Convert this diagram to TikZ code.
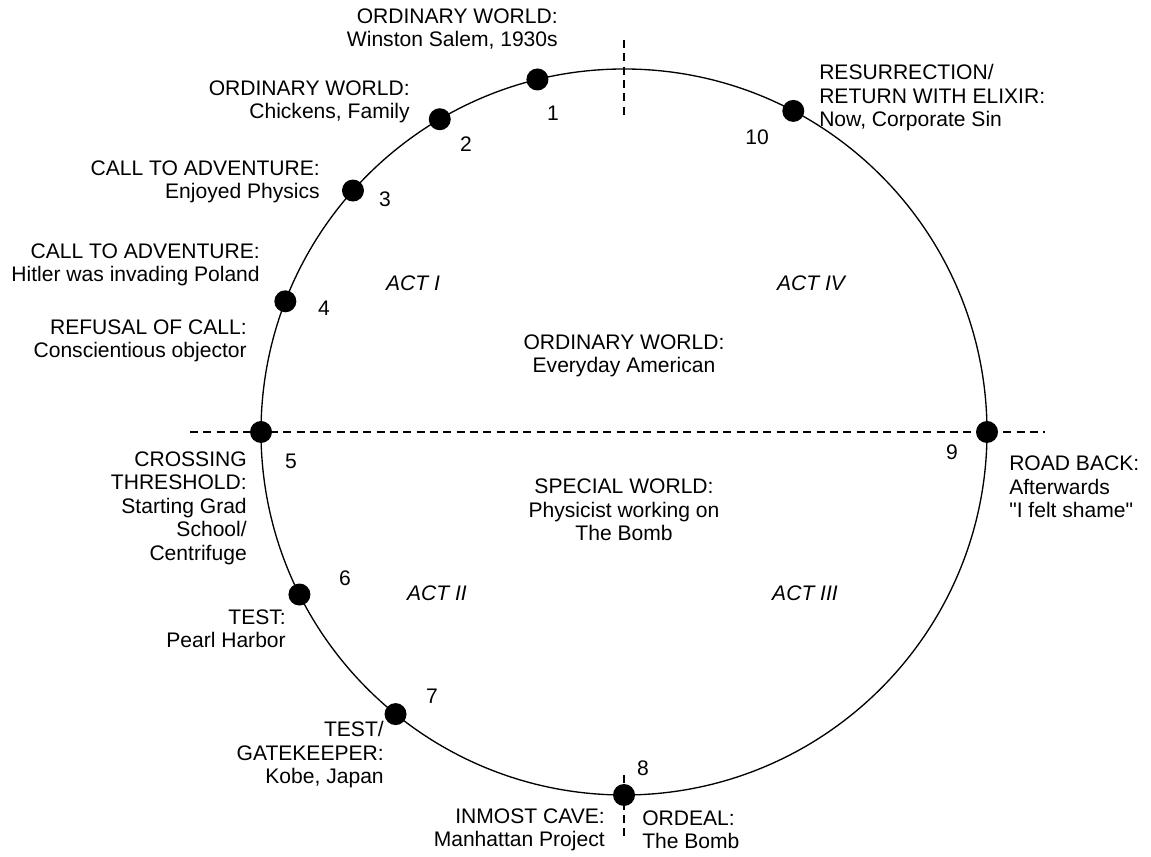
\documentclass[tikz,border=0pt]{standalone}
\usepackage{fontspec}
\setmainfont{Liberation Sans}[Ligatures=TeXOff]
\usetikzlibrary{positioning, calc}
\newcommand{\labelfont}{\fontsize{15.8}{17.6}\selectfont}
\tikzset{
  stage/.style={circle, fill=black, inner sep=0pt, minimum size=16.5pt},
  stagenum/.style={inner sep=0pt, font=\labelfont},
  note/.style={inner sep=0pt, align=right, anchor=east, font=\labelfont},
  noteR/.style={inner sep=0pt, align=left, anchor=west, font=\labelfont},
  act/.style={inner sep=0pt, font=\labelfont\itshape},
  world/.style={inner sep=0pt, align=center, font=\labelfont},
  divider/.style={line width=1pt, dash pattern=on 6pt off 4pt}
}

\begin{document}
\begin{tikzpicture}[x=0.75pt, y=0.75pt]
        \useasboundingbox (0,0) rectangle (1151,856);
        \coordinate (c) at (624,424);

        % Dividers
        \coordinate (hl) at (190,424);
        \coordinate (hr) at (1045,424);
        \coordinate (vt1) at (624,816);
        \coordinate (vt2) at (624,741);
        \coordinate (vb1) at (624,81);
        \coordinate (vb2) at (624,16);
        \draw[divider] (hl) -- (hr);
        \draw[divider] (vt1) -- (vt2);
        \draw[divider] (vb1) -- (vb2);

        % Journey circle
        \draw[line width=1pt] (c) circle (363);

        % Stages (angle / number / number position)
        \foreach \a/\n/\nx/\ny in {
          103.8/1/553/743,
          120.5/2/466/712,
          138.3/3/385/657,
          158.9/4/324/548,
          180/5/291/395,
          206.6/6/345/278,
          231/7/432/160,
          270/8/643/88,
          0/9/952/404,
          62.2/10/757/719
        }{
          \node[stage] (p\n) at ($(c)+(\a:363)$) {};
          \node[stagenum] (n\n) at (\nx,\ny) {\n};
        }

        % Stage notes
        \node[note] (t1) at (558,827) {ORDINARY WORLD:\\Winston Salem, 1930s};
        \node[note] (t2) at (410,754) {ORDINARY WORLD:\\Chickens, Family};
        \node[note] (t3) at (320,674) {CALL TO ADVENTURE:\\Enjoyed Physics};
        \node[note] (t4) at (260,591) {CALL TO ADVENTURE:\\Hitler was invading Poland};
        \node[note] (t4b) at (247,515) {REFUSAL OF CALL:\\Conscientious objector};
        \node[note] (t5) at (247,348) {CROSSING\\THRESHOLD:\\Starting Grad\\School/\\Centrifuge};
        \node[note] (t6) at (286,227) {TEST:\\Pearl Harbor};
        \node[note] (t7) at (384,101) {TEST/\\GATEKEEPER:\\Kobe, Japan};
        \node[note] (t8a) at (605,26) {INMOST CAVE:\\Manhattan Project};
        \node[noteR] (t8b) at (642,26) {ORDEAL:\\The Bomb};
        \node[noteR] (t9) at (1009,369) {ROAD BACK:\\Afterwards\\"I felt shame"};
        \node[noteR] (t10) at (819,758) {RESURRECTION/\\RETURN WITH ELIXIR:\\Now, Corporate Sin};

        % Acts
        \node[act] (a1) at (413,573) {ACT I};
        \node[act] (a4) at (811,573) {ACT IV};
        \node[act] (a2) at (437,263) {ACT II};
        \node[act] (a3) at (805,263) {ACT III};

        % Worlds
        \node[world] (w1) at (624,500) {ORDINARY WORLD:\\Everyday American};
        \node[world] (w2) at (624,346) {SPECIAL WORLD:\\Physicist working on\\The Bomb};
      \end{tikzpicture}
\end{document}
